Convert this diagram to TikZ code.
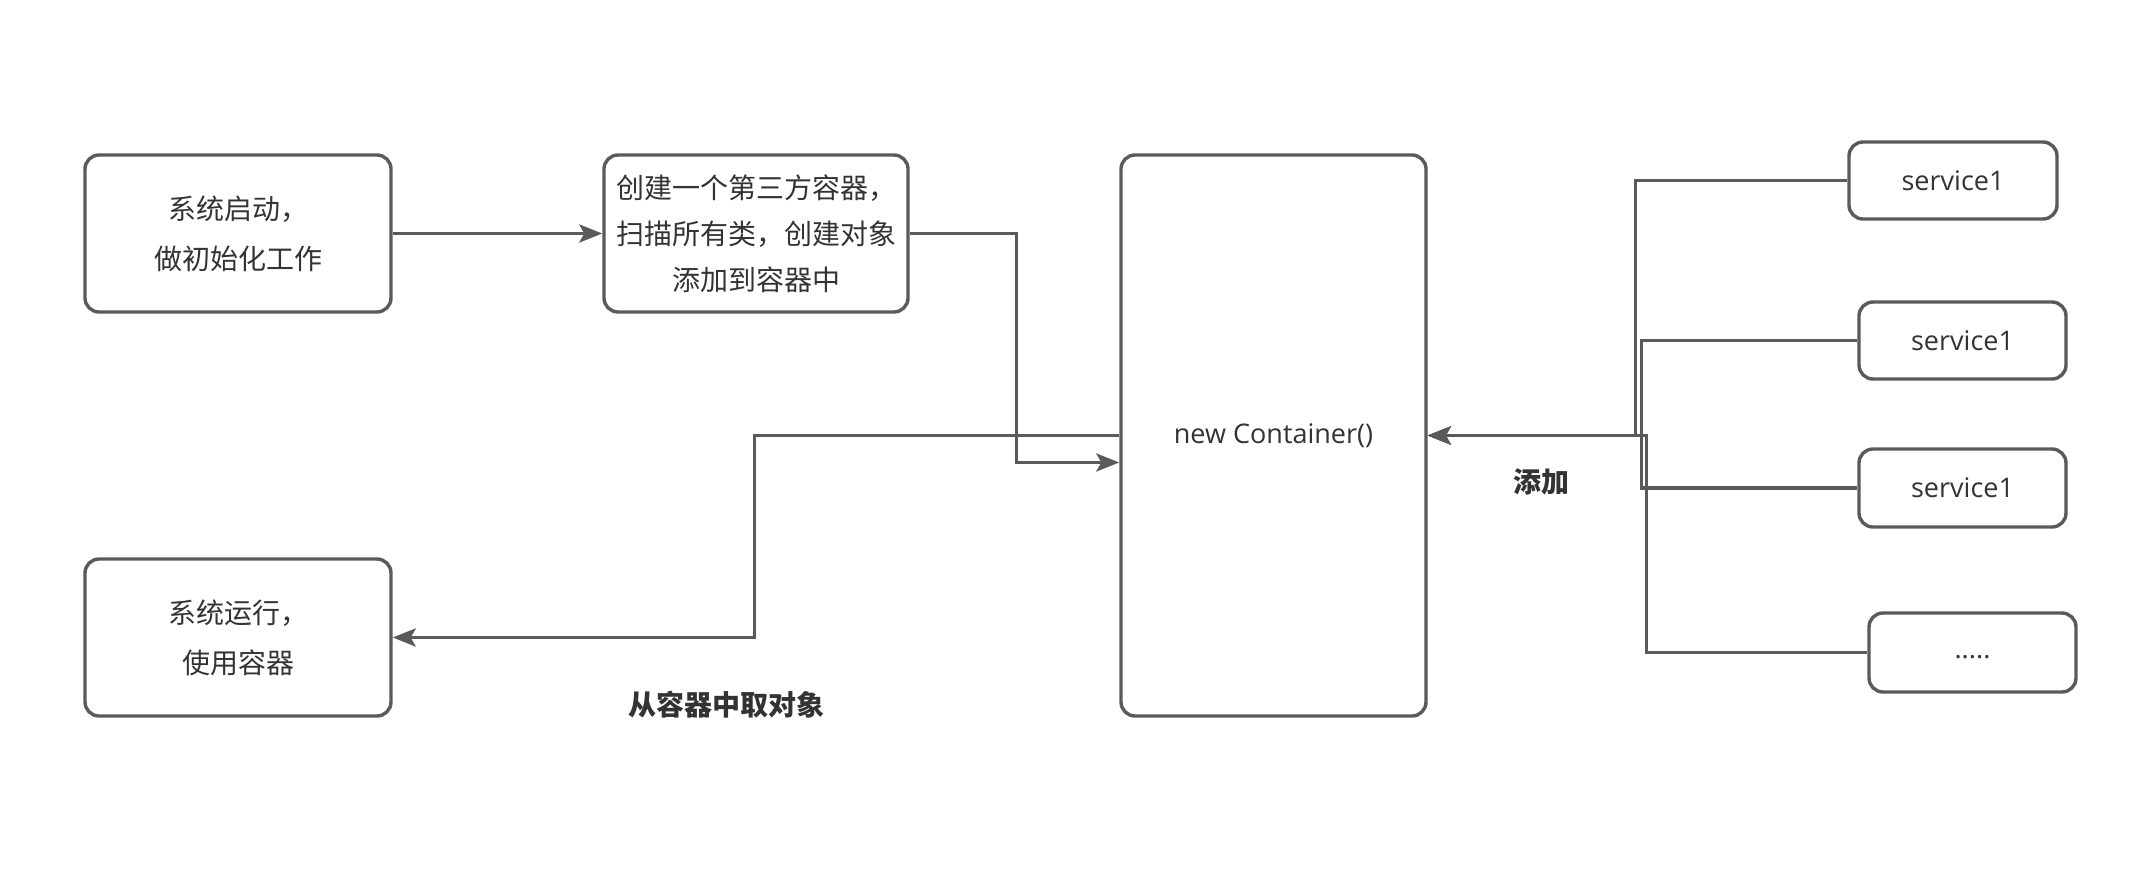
\documentclass[tikz,border=0pt]{standalone}
\usepackage{fontspec}
\setmainfont{Open Sans}
\newfontfamily\cjk{Noto Sans CJK SC}
\usetikzlibrary{arrows.meta,calc}
\definecolor{ln}{HTML}{5A5A5A}
\definecolor{tx}{HTML}{333333}
\begin{document}
\begin{tikzpicture}[x=0.5pt,y=-0.5pt,
  box/.style={draw=ln,line width=1.7pt,rounded corners=7pt,inner sep=0pt,text=tx,align=center},
  cjkbox/.style={box,font=\cjk\fontsize{14pt}{25pt}\selectfont},
  latbox/.style={box,font=\fontsize{13.5pt}{16pt}\selectfont},
  arr/.style={draw=ln,line width=1.7pt,-{Stealth[length=11.5pt,width=9pt,inset=2.5pt]}},
  lbl/.style={text=tx,font=\cjk\bfseries\fontsize{14pt}{16pt}\selectfont,inner sep=0pt}]
\useasboundingbox (0,0) rectangle (2146,878);
% nodes
\node[cjkbox,minimum width=153pt,minimum height=78.5pt] (A) at (238,233.5) {系统启动，\\做初始化工作};
\node[box,font=\cjk\fontsize{14pt}{23pt}\selectfont,minimum width=152pt,minimum height=78.5pt] (B) at (756,233.5) {创建一个第三方容器，\\扫描所有类，创建对象\\添加到容器中};
\node[latbox,minimum width=152.5pt,minimum height=280.5pt] (cont) at (1273.5,435.5) {new Container()};
\node[cjkbox,minimum width=153pt,minimum height=78.5pt] (C) at (238,637.5) {系统运行，\\使用容器};
\node[latbox,minimum width=104pt,minimum height=38.5pt] (s1) at (1953,180.5) {service1};
\node[latbox,minimum width=103.5pt,minimum height=38.5pt] (s2) at (1962.5,340.5) {service1};
\node[latbox,minimum width=103.5pt,minimum height=39pt] (s3) at (1962.5,488) {service1};
\node[latbox,minimum width=103.5pt,minimum height=39.5pt] (s4) at (1972.5,652.5) {\vphantom{Ag}.....};
% labels
\node[lbl] (l1) at (1541,482) {添加};
\node[lbl] (l2) at (726,705) {从容器中取对象};
% connectors
\draw[arr] (A.east) -- (B.west);
\draw[arr] (B.east) -- ++(107,0) |- ([yshift=-13.5pt]cont.west);
\draw[arr] (cont.west) -- ++(-365,0) |- (C.east);
\draw[arr] (s1.west) -- ++(-212,0) |- (cont.east);
\draw[arr] (s2.west) -- ++(-216,0) |- (cont.east);
\draw[arr] (s3.west) -- ++(-216,0) |- (cont.east);
\draw[arr] (s4.west) -- ++(-221,0) |- (cont.east);
\end{tikzpicture}
\end{document}
